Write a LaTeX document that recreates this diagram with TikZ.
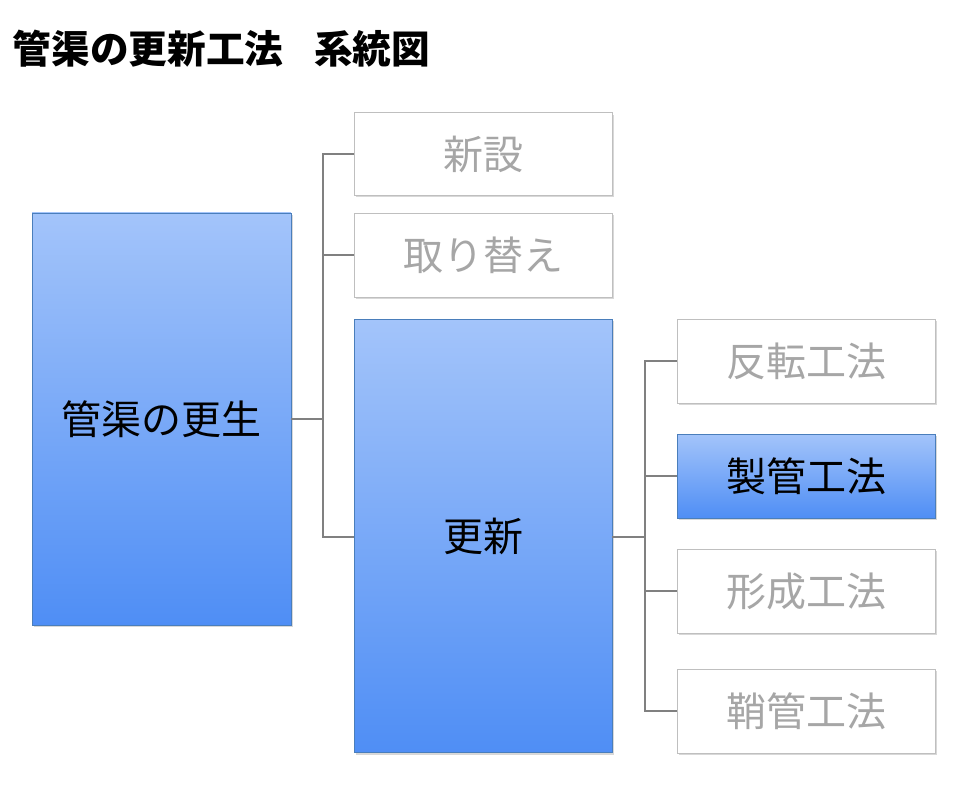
\documentclass[tikz,border=0pt]{standalone}
\usepackage{fontspec}
\setmainfont{Noto Sans CJK JP}
\usetikzlibrary{shadows}
\definecolor{boxline}{HTML}{4A7EBB}
\definecolor{toplight}{HTML}{A3C4FA}
\definecolor{botdark}{HTML}{4F8EF5}
\definecolor{greytext}{HTML}{A6A6A6}
\definecolor{greyline}{HTML}{BFBFBF}
\tikzset{
  bluebox/.style={draw=boxline, top color=toplight, bottom color=botdark, drop shadow={opacity=0.3,shadow xshift=1.5pt,shadow yshift=-1.5pt}, font=\fontsize{30}{34}\selectfont},
  whitebox/.style={draw=greyline, fill=white, text=greytext, drop shadow={opacity=0.3,shadow xshift=1.5pt,shadow yshift=-1.5pt}, font=\fontsize{30}{34}\selectfont},
  link/.style={draw=gray, line width=1pt}
}
\begin{document}
\begin{tikzpicture}[x=0.75pt,y=-0.75pt]
  \useasboundingbox[fill=white] (0,0) rectangle (969,791);
  % title
  \node[anchor=west, font=\bfseries\fontsize{29}{33}\selectfont] (title) at (8,49) {管渠の更新工法\hspace{0.8em}系統図};
  % boxes
  \node[bluebox, minimum width=194pt, minimum height=309pt] (kosei) at (161.5,419) {管渠の更生};
  \node[whitebox, minimum width=193.5pt, minimum height=62pt] (shinsetsu) at (483,154) {新設};
  \node[whitebox, minimum width=193.5pt, minimum height=63pt] (torikae) at (483,255) {取り替え};
  \node[bluebox, minimum width=193.5pt, minimum height=325pt] (koshin) at (483,536) {更新};
  \node[whitebox, minimum width=193.5pt, minimum height=63pt] (hanten) at (806,361) {反転工法};
  \node[bluebox, minimum width=193.5pt, minimum height=63pt] (seikan) at (806,476) {製管工法};
  \node[whitebox, minimum width=193.5pt, minimum height=63pt] (keisei) at (806,591) {形成工法};
  \node[whitebox, minimum width=193.5pt, minimum height=63pt] (sayakan) at (806,711) {鞘管工法};
  % connectors
  \coordinate (j1) at (323,419);
  \coordinate (j2) at (645,537);
  \draw[link] (kosei.east) -- (j1);
  \draw[link] (shinsetsu.west) -| (j1);
  \draw[link] (torikae.west) -| (j1);
  \draw[link] (koshin.west |- 0,537) -| (j1);
  \draw[link] (koshin.east |- j2) -- (j2);
  \draw[link] (hanten.west) -| (j2);
  \draw[link] (seikan.west) -| (j2);
  \draw[link] (keisei.west) -| (j2);
  \draw[link] (sayakan.west) -| (j2);
\end{tikzpicture}
\end{document}
